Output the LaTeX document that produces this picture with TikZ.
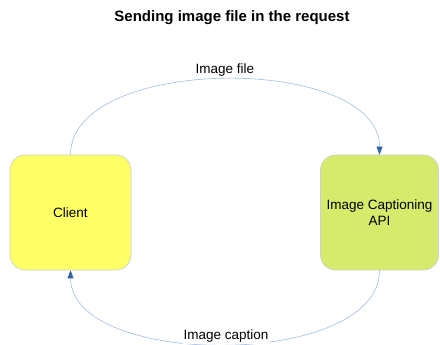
\documentclass[tikz,border=0pt]{standalone}
\usepackage{fontspec}
\setmainfont{Liberation Sans}
\usetikzlibrary{arrows.meta}
\definecolor{clientfill}{RGB}{255,255,102}
\definecolor{apifill}{RGB}{214,234,108}
\definecolor{boxedge}{RGB}{200,205,215}
\definecolor{linecol}{RGB}{165,188,222}
\definecolor{tipcol}{RGB}{52,101,164}
\tikzset{
  box/.style={draw=boxedge, line width=0.6pt, rounded corners=15pt, align=center,
    font=\fontsize{13.5pt}{15.5pt}\selectfont, inner sep=0pt},
  conn/.style={draw=linecol, line width=0.6pt,
    -{Triangle[length=8pt,width=6pt,fill=tipcol,color=tipcol]}},
  lbl/.style={font=\fontsize{13.5pt}{15.5pt}\selectfont, inner sep=1pt}
}
\begin{document}
\begin{tikzpicture}[x=1pt,y=1pt]
\useasboundingbox (0,0) rectangle (440,345);
\node[font=\bfseries\fontsize{15pt}{17pt}\selectfont] (title) at (232,327) {Sending image file in the request};
\node[box, fill=clientfill, minimum width=121pt, minimum height=115pt] (client) at (70.5,132.5) {Client};
\node[box, fill=apifill, minimum width=118pt, minimum height=115pt] (api) at (379.5,132.5) {Image Captioning\\API};
\coordinate (ct) at (client.north);
\coordinate (at) at (api.north);
\coordinate (cb) at (client.south);
\coordinate (ab) at (api.south);
\draw[conn] (ct) .. controls (71,291) and (380,291) .. (at);
\draw[conn] (ab) .. controls (380,-24) and (71,-24) .. (cb);
\node[lbl] (lfile) at (225,275) {Image file};
\node[lbl, fill=white] (lcap) at (226,8.5) {Image caption};
\end{tikzpicture}
\end{document}
